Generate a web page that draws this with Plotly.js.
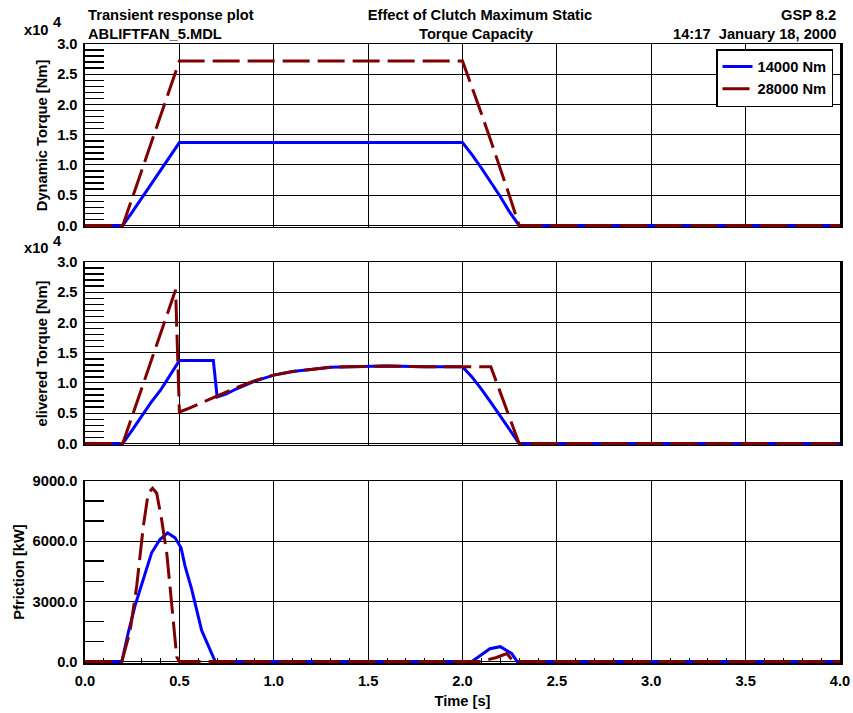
<!DOCTYPE html>
<html><head><meta charset="utf-8">
<script src="https://cdn.plot.ly/plotly-3.0.1.min.js"></script>
<style>html,body{margin:0;padding:0;background:#fff}</style>
</head><body><div id="chart" style="width:853px;height:713px"></div>
<script>
// Series names
const seriesNames = ['14000 Nm', '28000 Nm'];

// Panel 1: Dynamic Torque [Nm] (x10^4)
const dynTime14 = [0, 0.2, 0.25, 0.3, 0.35, 0.4, 0.45, 0.5, 2.0, 2.05, 2.1, 2.15, 2.2, 2.25, 2.3, 4.0];
const dynVal14  = [0, 0, 0.22, 0.45, 0.68, 0.9, 1.14, 1.37, 1.37, 1.17, 0.95, 0.72, 0.48, 0.22, 0, 0];
const dynTime28 = [0, 0.2, 0.25, 0.3, 0.35, 0.4, 0.45, 0.48, 0.5, 2.0, 2.05, 2.1, 2.15, 2.2, 2.25, 2.3, 4.0];
const dynVal28  = [0, 0, 0.45, 0.9, 1.36, 1.81, 2.27, 2.55, 2.72, 2.72, 2.3, 1.85, 1.4, 0.95, 0.48, 0, 0];

// Panel 2: Delivered Torque [Nm] (x10^4)
const delTime14 = [0, 0.2, 0.25, 0.3, 0.35, 0.4, 0.45, 0.5, 0.68, 0.7, 0.75, 0.8, 0.9, 1.0, 1.1, 1.2, 1.3, 1.4, 1.5, 1.6, 1.8, 2.0, 2.05, 2.1, 2.15, 2.2, 2.25, 2.3, 4.0];
const delVal14  = [0, 0, 0.22, 0.45, 0.68, 0.88, 1.13, 1.37, 1.37, 0.77, 0.82, 0.9, 1.03, 1.13, 1.19, 1.23, 1.26, 1.27, 1.28, 1.28, 1.27, 1.27, 1.1, 0.9, 0.68, 0.45, 0.22, 0, 0];
const delTime28 = [0, 0.2, 0.48, 0.5, 0.55, 0.6, 0.65, 0.7, 0.75, 0.8, 0.9, 1.0, 1.1, 1.2, 1.3, 1.4, 1.5, 1.6, 1.8, 2.0, 2.15, 2.3, 4.0];
const delVal28  = [0, 0, 2.54, 0.52, 0.58, 0.65, 0.72, 0.79, 0.85, 0.92, 1.04, 1.13, 1.19, 1.23, 1.26, 1.27, 1.28, 1.28, 1.27, 1.27, 1.27, 0, 0];

// Panel 3: Pfriction [kW]
const pfTime14 = [0, 0.195, 0.23, 0.265, 0.309, 0.353, 0.397, 0.438, 0.477, 0.509, 0.53, 0.565, 0.618, 0.68, 0.69, 2.05, 2.1, 2.145, 2.2, 2.26, 2.29, 4.0];
const pfVal14  = [0, 0, 1470, 2780, 4100, 5420, 6080, 6410, 6170, 5670, 4760, 3610, 1550, 150, 0, 0, 350, 640, 740, 400, 0, 0];
const pfTime28 = [0, 0.195, 0.238, 0.274, 0.309, 0.335, 0.358, 0.38, 0.406, 0.433, 0.45, 0.468, 0.486, 0.5, 2.1, 2.18, 2.235, 2.27, 2.3, 4.0];
const pfVal28  = [0, 0, 1470, 3770, 6740, 8390, 8640, 8390, 7070, 5420, 3770, 1790, 230, 0, 0, 200, 400, 0, 0, 0];

// Tick / label text
const yTitles = ['Dynamic Torque [Nm]', 'elivered Torque [Nm]', 'Pfriction [kW]'];
const xTitle = 'Time [s]';
const headerLeft = ['Transient response plot', 'ABLIFTFAN_5.MDL'];
const headerCenter = ['Effect of Clutch Maximum Static', 'Torque Capacity'];
const headerRight = ['GSP 8.2', '14:17\u00A0 January 18, 2000'];

const BLUE = 'rgb(0,0,255)';
const RED = 'rgb(128,0,0)';
const DASH = '27px,8px';
const FONT = {family: 'Liberation Sans, Arial, sans-serif', size: 14.7, color: '#000', weight: 'bold'};

function tr(x, y, name, color, dash, xa, ya, show) {
  return {x: x, y: y, name: name, type: 'scatter', mode: 'lines', xaxis: xa, yaxis: ya,
    line: {color: color, width: 3, dash: dash}, showlegend: show, hoverinfo: 'skip'};
}

const data = [
  tr(dynTime14, dynVal14, seriesNames[0], BLUE, 'solid', 'x', 'y', true),
  tr(dynTime28, dynVal28, seriesNames[1], RED, DASH, 'x', 'y', true),
  tr(delTime14, delVal14, seriesNames[0], BLUE, 'solid', 'x2', 'y2', false),
  tr(delTime28, delVal28, seriesNames[1], RED, DASH, 'x2', 'y2', false),
  tr(pfTime14, pfVal14, seriesNames[0], BLUE, 'solid', 'x3', 'y3', false),
  tr(pfTime28, pfVal28, seriesNames[1], RED, DASH, 'x3', 'y3', false)
];

function xax(anchor, showLabels) {
  const a = {anchor: anchor, range: [0, 4], dtick: 0.5, tick0: 0, tickformat: '.1f',
    showgrid: true, gridcolor: '#000', gridwidth: 1, zeroline: false,
    showline: true, linecolor: '#000', linewidth: 1.5, mirror: true, layer: 'below traces',
    ticks: '', showticklabels: showLabels, tickfont: FONT, fixedrange: true};
  if (showLabels) {
    a.ticklabelstandoff = 4;
    a.minor = {dtick: 0.1, tick0: 0, ticks: 'inside', ticklen: 5, tickwidth: 1, tickcolor: '#000', showgrid: false};
    a.title = {text: xTitle, font: FONT, standoff: 7};
  }
  return a;
}
function yax(anchor, dom, range, dtick, minorDtick, title, standoff) {
  return {anchor: anchor, domain: dom, range: range, dtick: dtick, tick0: 0, tickformat: '.1f',
    showgrid: true, gridcolor: '#000', gridwidth: 1, zeroline: false,
    showline: true, linecolor: '#000', linewidth: 2.5, mirror: true, layer: 'below traces',
    ticks: '', tickfont: FONT, fixedrange: true, ticklabelstandoff: 2,
    minor: {dtick: minorDtick, tick0: 0, ticks: 'inside', ticklen: 19, tickwidth: 1.5, tickcolor: '#000', showgrid: false},
    title: {text: title, font: FONT, standoff: standoff}};
}

function ann(text, px, py, xanchor) {
  return {text: text, xref: 'paper', yref: 'paper', x: (px - 85) / 755, y: (663 - py) / 619,
    xanchor: xanchor, yanchor: 'middle', showarrow: false, font: FONT};
}

const layout = {
  width: 853, height: 713,
  margin: {l: 85, r: 13, t: 44, b: 50},
  paper_bgcolor: '#fff', plot_bgcolor: '#fff',
  font: FONT,
  title: {text: headerCenter[0], font: FONT, xref: 'paper', x: (480 - 85) / 755, xanchor: 'center',
    yref: 'container', y: 1 - 15 / 713, yanchor: 'middle'},
  showlegend: true,
  legend: {x: (833 - 85) / 755, xanchor: 'right', y: (663 - 49) / 619, yanchor: 'top',
    bgcolor: '#fff', bordercolor: '#000', borderwidth: 1.5, font: FONT, traceorder: 'normal'},
  xaxis: xax('y', false),
  xaxis2: xax('y2', false),
  xaxis3: xax('y3', true),
  yaxis: yax('x', [0.7044, 1], [-0.025, 3], 0.5, 0.1, yTitles[0], 6),
  yaxis2: yax('x2', [0.3522, 0.6478], [-0.025, 3], 0.5, 0.1, yTitles[1], 6),
  yaxis3: yax('x3', [0, 0.2940], [-74, 9000], 3000, 1000, yTitles[2], 5),
  annotations: [
    ann(headerLeft[0], 86, 15, 'left'),
    ann(headerLeft[1], 86, 34, 'left'),
    ann(headerCenter[1], 476, 34, 'center'),
    ann(headerRight[0], 838, 15, 'right'),
    ann(headerRight[1], 838, 34, 'right'),
    ann('x10', 22, 30, 'left'),
    ann('4', 51, 22, 'left'),
    ann('x10', 22, 248, 'left'),
    ann('4', 51, 241, 'left')
  ]
};

Plotly.newPlot('chart', data, layout, {displayModeBar: false, staticPlot: true});
</script></body></html>
